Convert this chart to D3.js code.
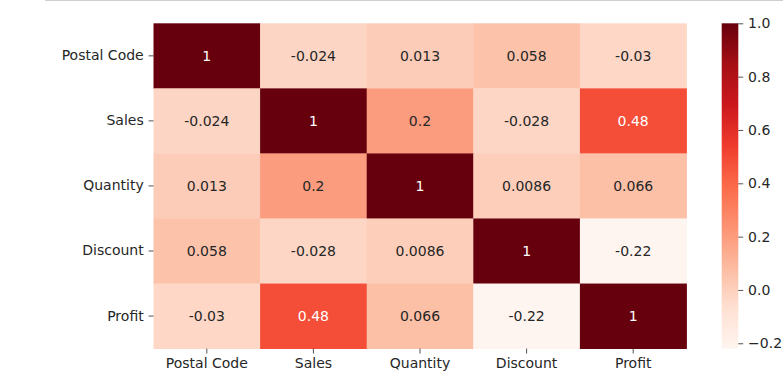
<!DOCTYPE html>
<html>
<head>
<meta charset="utf-8">
<script src="https://cdn.jsdelivr.net/npm/d3@7"></script>
<style>
  body { margin: 0; background: #fff; }
  svg { display: block; font-family: "DejaVu Sans", sans-serif; }
</style>
</head>
<body>
<div id="chart"></div>
<script>
const labels = ["Postal Code", "Sales", "Quantity", "Discount", "Profit"];
const corr = [
  [1, -0.024, 0.013, 0.058, -0.03],
  [-0.024, 1, 0.2, -0.028, 0.48],
  [0.013, 0.2, 1, 0.0086, 0.066],
  [0.058, -0.028, 0.0086, 1, -0.22],
  [-0.03, 0.48, 0.066, -0.22, 1]
];
const cbarTicks = [-0.2, 0, 0.2, 0.4, 0.6, 0.8, 1.0];
const vmin = -0.22, vmax = 1;

// matplotlib "Reds" (ColorBrewer 9 colours, linear)
const reds = ["#fff5f0", "#fee0d2", "#fcbba1", "#fc9272", "#fb6a4a", "#ef3b2c", "#cb181d", "#a50f15", "#67000d"];

const W = 783, H = 390;
const plot = { left: 153.5, right: 686.5, top: 23.3, bottom: 348.6 };
const cbar = { left: 721.7, right: 738.3 };
const fontSize = "14px";
const tick = 4.9;

const svg = d3.select("#chart").append("svg")
  .attr("width", W)
  .attr("height", H);

// thin grey border line at the top of the output cell
svg.append("line")
  .attr("x1", 45).attr("x2", W)
  .attr("y1", 0.5).attr("y2", 0.5)
  .attr("stroke", "#cfcfcf");

const color = d3.scaleLinear()
  .domain(d3.range(reds.length).map(i => vmin + i * (vmax - vmin) / (reds.length - 1)))
  .range(reds)
  .interpolate(d3.interpolateRgb)
  .clamp(true);

const x = d3.scaleBand().domain(labels).range([plot.left, plot.right]);
const y = d3.scaleBand().domain(labels).range([plot.top, plot.bottom]);

const cells = corr.flatMap((row, i) => row.map((v, j) => ({ r: labels[i], c: labels[j], v })));

// seaborn picks the annotation colour from luminance
function luminance(c) {
  const rgb = d3.rgb(c);
  const lin = [rgb.r, rgb.g, rgb.b].map(u => {
    u /= 255;
    return u <= 0.03928 ? u / 12.92 : Math.pow((u + 0.055) / 1.055, 2.4);
  });
  return 0.2126 * lin[0] + 0.7152 * lin[1] + 0.0722 * lin[2];
}

svg.append("g").selectAll("rect")
  .data(cells)
  .join("rect")
  .attr("x", d => x(d.c))
  .attr("y", d => y(d.r))
  .attr("width", x.bandwidth() + 0.4)
  .attr("height", y.bandwidth() + 0.4)
  .attr("fill", d => color(d.v));

svg.append("g").selectAll("text")
  .data(cells)
  .join("text")
  .attr("x", d => x(d.c) + x.bandwidth() / 2)
  .attr("y", d => y(d.r) + y.bandwidth() / 2)
  .attr("dy", "0.36em")
  .attr("text-anchor", "middle")
  .style("font-size", fontSize)
  .attr("fill", d => luminance(color(d.v)) > 0.408 ? "#262626" : "#ffffff")
  .text(d => String(d.v));

// axes
const xAxis = svg.append("g")
  .attr("transform", `translate(0,${plot.bottom})`)
  .call(d3.axisBottom(x).tickSize(tick).tickPadding(tick));
const yAxis = svg.append("g")
  .attr("transform", `translate(${plot.left},0)`)
  .call(d3.axisLeft(y).tickSize(tick).tickPadding(tick));

[xAxis, yAxis].forEach(g => {
  g.select(".domain").remove();
  g.selectAll(".tick line").attr("stroke", "#262626").attr("stroke-width", 0.8);
  g.selectAll(".tick text")
    .style("font-size", fontSize)
    .style("font-family", "DejaVu Sans, sans-serif")
    .attr("fill", "#262626");
});

// colour bar
const cy = d3.scaleLinear().domain([vmin, vmax]).range([plot.bottom, plot.top]);

const grad = svg.append("defs").append("linearGradient")
  .attr("id", "cbar-grad")
  .attr("x1", 0).attr("y1", 1).attr("x2", 0).attr("y2", 0);
grad.selectAll("stop")
  .data(color.domain())
  .join("stop")
  .attr("offset", d => (d - vmin) / (vmax - vmin))
  .attr("stop-color", d => color(d));

svg.append("rect")
  .attr("x", cbar.left)
  .attr("y", plot.top)
  .attr("width", cbar.right - cbar.left)
  .attr("height", plot.bottom - plot.top)
  .attr("fill", "url(#cbar-grad)");

const cAxis = svg.append("g")
  .attr("transform", `translate(${cbar.right},0)`)
  .call(d3.axisRight(cy)
    .tickValues(cbarTicks)
    .tickSize(tick)
    .tickPadding(tick)
    .tickFormat(d => d3.format(".1f")(d).replace("-", "\u2212")));
cAxis.select(".domain").remove();
cAxis.selectAll(".tick line").attr("stroke", "#262626").attr("stroke-width", 0.8);
cAxis.selectAll(".tick text")
  .style("font-size", fontSize)
  .style("font-family", "DejaVu Sans, sans-serif")
  .attr("fill", "#262626");
</script>
</body>
</html>
